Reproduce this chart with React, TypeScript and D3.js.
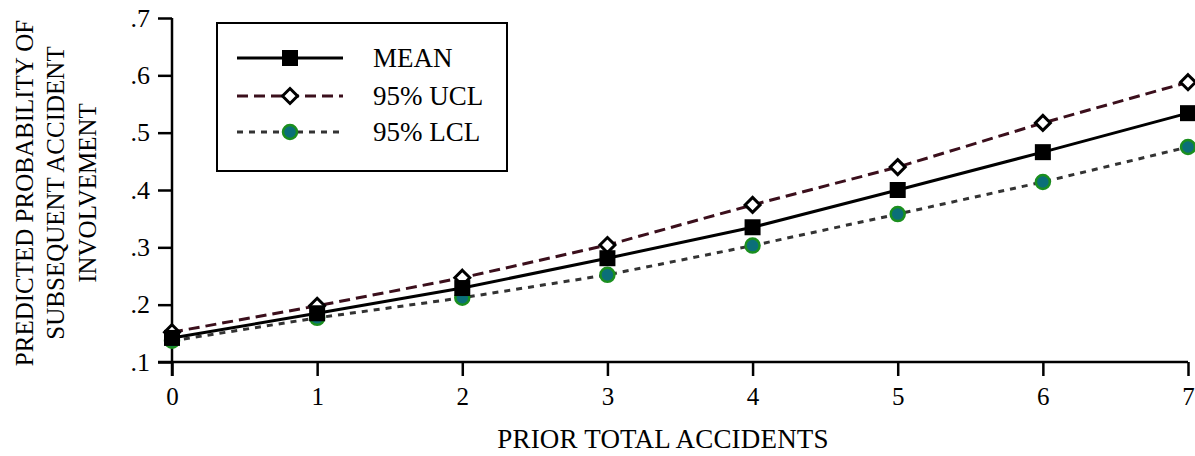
import React, { useEffect, useRef } from "react";
import * as d3 from "d3";

const priorAccidents = [0, 1, 2, 3, 4, 5, 6, 7];
const meanValues = [0.142, 0.185, 0.229, 0.281, 0.335, 0.4, 0.466, 0.534];
const uclValues = [0.152, 0.198, 0.247, 0.304, 0.374, 0.44, 0.517, 0.588];
const lclValues = [0.137, 0.177, 0.212, 0.252, 0.303, 0.358, 0.414, 0.475];
const yTicks = [0.1, 0.2, 0.3, 0.4, 0.5, 0.6, 0.7];
const yTitleLines = ["PREDICTED PROBABILITY OF", "SUBSEQUENT  ACCIDENT", "INVOLVEMENT"];
const legendLabels = ["MEAN", "95% UCL", "95% LCL"];

const WIDTH = 1195;
const HEIGHT = 456;
const FONT = "'Liberation Serif', 'Times New Roman', serif";

const App = () => {
  const svgRef = useRef(null);

  useEffect(() => {
    const svg = d3.select(svgRef.current);
    svg.selectAll("*").remove();

    const x = d3.scaleLinear().domain([0, 7]).range([172, 1188]);
    const y = d3.scaleLinear().domain([0.1, 0.7]).range([362, 18]);

    // axes
    const yAxis = svg.append("g").attr("transform", "translate(172,0)");
    yAxis
      .call(
        d3
          .axisLeft(y)
          .tickValues(yTicks)
          .tickSize(14)
          .tickPadding(8)
          .tickFormat((d) => d3.format(".1f")(d).replace(/^0/, ""))
      )
      .call((g) => g.select(".domain").attr("stroke-width", 2.5).attr("d", `M0,${y(0.7)}V${y(0.1) + 14}`));
    yAxis.selectAll(".tick line").attr("stroke-width", 2.5);
    yAxis
      .selectAll("text")
      .attr("font-family", FONT)
      .attr("font-size", 26)
      .attr("fill", "#000");

    const xAxis = svg.append("g").attr("transform", `translate(0,${y(0.1)})`);
    xAxis
      .call(d3.axisBottom(x).tickValues(priorAccidents).tickSize(14).tickPadding(11).tickFormat(d3.format("d")))
      .call((g) => g.select(".domain").attr("stroke-width", 2.5).attr("d", `M${158},0H${x(7)}`));
    xAxis.selectAll(".tick line").attr("stroke-width", 2.5);
    xAxis
      .selectAll("text")
      .attr("font-family", FONT)
      .attr("font-size", 25)
      .attr("fill", "#000");

    // titles
    svg
      .append("text")
      .attr("x", 663)
      .attr("y", 448)
      .attr("text-anchor", "middle")
      .attr("font-family", FONT)
      .attr("font-size", 27)
      .attr("letter-spacing", 0.2)
      .text("PRIOR TOTAL ACCIDENTS");

    svg
      .append("g")
      .selectAll("text")
      .data(yTitleLines)
      .join("text")
      .attr("transform", (d, i) => `translate(${24 + i * 31.5},193) rotate(-90)`)
      .attr("text-anchor", "middle")
      .attr("dominant-baseline", "central")
      .attr("font-family", FONT)
      .attr("font-size", 25)
      .text((d) => d);

    const series = [
      { values: lclValues, color: "#333", dash: "6,6", width: 3 },
      { values: uclValues, color: "#3b0f1c", dash: "11,6", width: 3 },
      { values: meanValues, color: "#000", dash: null, width: 3 },
    ];

    const line = d3
      .line()
      .x((d, i) => x(priorAccidents[i]))
      .y((d) => y(d));

    series.forEach((s) => {
      svg
        .append("path")
        .datum(s.values)
        .attr("fill", "none")
        .attr("stroke", s.color)
        .attr("stroke-width", s.width)
        .attr("stroke-dasharray", s.dash)
        .attr("d", line);
    });

    const drawCircle = (g, cx, cy) =>
      g
        .append("circle")
        .attr("cx", cx)
        .attr("cy", cy)
        .attr("r", 7)
        .attr("fill", "#0b6f78")
        .attr("stroke", "#1b8f1f")
        .attr("stroke-width", 2.5);
    const drawDiamond = (g, cx, cy) =>
      g
        .append("path")
        .attr("d", `M${cx},${cy - 7.5}L${cx + 7.5},${cy}L${cx},${cy + 7.5}L${cx - 7.5},${cy}Z`)
        .attr("fill", "#fff")
        .attr("stroke", "#000")
        .attr("stroke-width", 3);
    const drawSquare = (g, cx, cy) =>
      g
        .append("rect")
        .attr("x", cx - 8)
        .attr("y", cy - 8)
        .attr("width", 16)
        .attr("height", 16)
        .attr("fill", "#000");

    const marks = svg.append("g");
    lclValues.forEach((v, i) => drawCircle(marks, x(priorAccidents[i]), y(v)));
    uclValues.forEach((v, i) => drawDiamond(marks, x(priorAccidents[i]), y(v)));
    meanValues.forEach((v, i) => drawSquare(marks, x(priorAccidents[i]), y(v)));

    // legend
    const legend = svg.append("g");
    legend
      .append("rect")
      .attr("x", 217)
      .attr("y", 23)
      .attr("width", 290)
      .attr("height", 148)
      .attr("fill", "#fff")
      .attr("stroke", "#000")
      .attr("stroke-width", 2);

    const legendY = [58, 96, 132];
    const legendSeries = [series[2], series[1], series[0]];
    const legendMarkers = [drawSquare, drawDiamond, drawCircle];
    legendLabels.forEach((label, i) => {
      const s = legendSeries[i];
      legend
        .append("line")
        .attr("x1", 237)
        .attr("x2", 343)
        .attr("y1", legendY[i])
        .attr("y2", legendY[i])
        .attr("stroke", s.color)
        .attr("stroke-width", s.width)
        .attr("stroke-dasharray", s.dash);
      legendMarkers[i](legend, 290, legendY[i]);
      legend
        .append("text")
        .attr("x", 373)
        .attr("y", legendY[i])
        .attr("dominant-baseline", "central")
        .attr("font-family", FONT)
        .attr("font-size", 27)
        .text(label);
    });
  }, []);

  return (
    <svg
      ref={svgRef}
      width={WIDTH}
      height={HEIGHT}
      style={{ position: "absolute", left: 0, top: 0, background: "#fff" }}
    ></svg>
  );
};

export default App;
